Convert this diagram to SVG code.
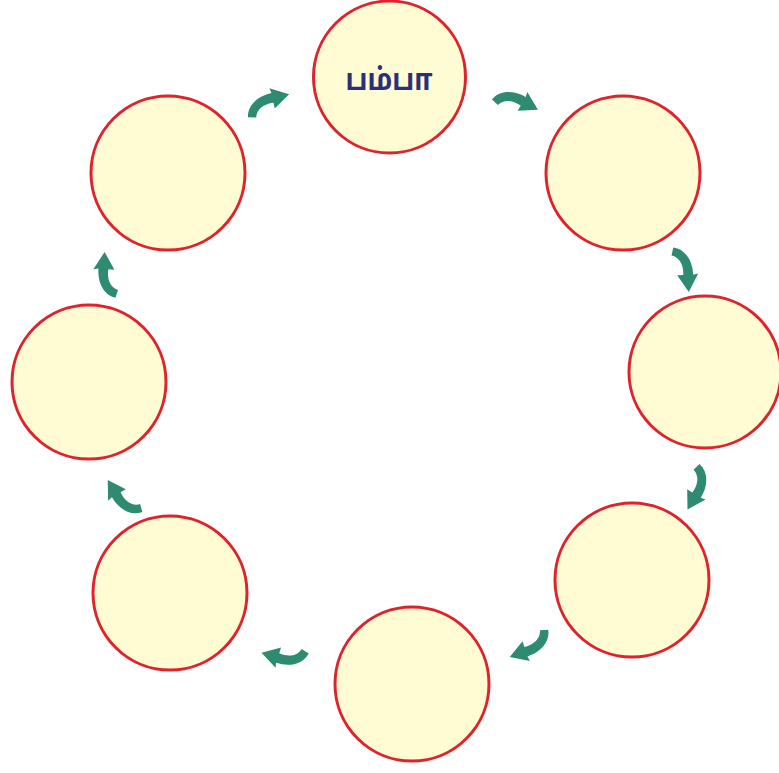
<svg xmlns="http://www.w3.org/2000/svg" xmlns:xlink="http://www.w3.org/1999/xlink" width="779" height="773" viewBox="0 0 779 773">
<style>
.node{fill:#FFFBD3;stroke:#DE232C;stroke-width:3}
.arr{fill:#2F8A72}
.lbl{font-family:"Noto Sans Tamil","Latha","Noto Sans","DejaVu Sans",sans-serif;font-size:30px;font-weight:bold;fill:#2A3078;text-anchor:middle}
</style>
<defs>
<path id="arr" d="M -22,12 C -20,0 -8,-7 6,-7 L 5,-12 L 23,-2 L 6,9 L 6,3 C -4,2 -12,6 -14,14 Z"/>
</defs>
<rect width="779" height="773" fill="#FFFFFF"/>
<g id="n1"><circle class="node" cx="389.5" cy="77" r="76"/><text class="lbl" x="389" y="90" textLength="87" lengthAdjust="spacingAndGlyphs">பம்பா</text></g>
<g id="n2"><circle class="node" cx="623" cy="173" r="77"/></g>
<g id="n3"><circle class="node" cx="705" cy="372" r="76"/></g>
<g id="n4"><circle class="node" cx="632" cy="580" r="77"/></g>
<g id="n5"><circle class="node" cx="412" cy="684" r="77"/></g>
<g id="n6"><circle class="node" cx="170" cy="593" r="77"/></g>
<g id="n7"><circle class="node" cx="89" cy="382" r="77"/></g>
<g id="n8"><circle class="node" cx="168" cy="173" r="77"/></g>
<g id="connectors" class="arr">
<use xlink:href="#arr" transform="translate(267,101) rotate(-12)"/>
<use xlink:href="#arr" transform="translate(517,100) rotate(30)"/>
<use xlink:href="#arr" transform="translate(686,269) rotate(88)"/>
<use xlink:href="#arr" transform="translate(698,489) rotate(122)"/>
<use xlink:href="#arr" transform="translate(531,648) rotate(162)"/>
<use xlink:href="#arr" transform="translate(284,658) rotate(198)"/>
<use xlink:href="#arr" transform="translate(121,499) rotate(240)"/>
<use xlink:href="#arr" transform="translate(105,275) rotate(274)"/>
</g>
</svg>
